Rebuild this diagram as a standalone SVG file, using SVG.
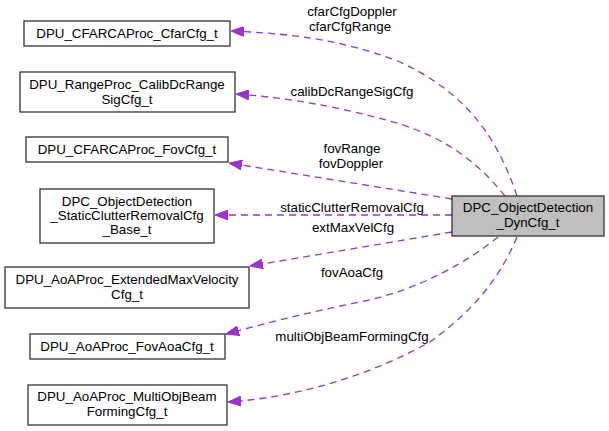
<svg xmlns="http://www.w3.org/2000/svg" width="609" height="431" viewBox="0 0 609 431">
<style>
.n rect{fill:#ffffff;stroke:#333333;stroke-width:1.3}
.m rect{fill:#bfbfbf;stroke:#333333;stroke-width:1.3}
text{font-family:"Liberation Sans",Arial,sans-serif;font-size:13.33px;fill:#000000;text-anchor:middle}
.e path{fill:none;stroke:#9a32cd;stroke-width:1.3;stroke-dasharray:7,5}
</style>
<defs>
<marker id="ah" viewBox="0 0 13 10" refX="13" refY="5" markerWidth="13" markerHeight="10" markerUnits="userSpaceOnUse" orient="auto">
<path d="M0,0 L13,5 L0,10 z" fill="#9a32cd" stroke="#9a32cd" stroke-width="1"/>
</marker>
</defs>
<rect width="609" height="431" fill="#ffffff"/>
<g id="connectors" class="e">
<path d="M517,196 C495,130 460,90 400,62 C340,38 280,33 231,31" marker-end="url(#ah)"/>
<path d="M505,196 C480,165 450,140 400,124 C340,106 280,97 236,94" marker-end="url(#ah)"/>
<path d="M452,199 L229,163" marker-end="url(#ah)"/>
<path d="M452,215 L215,215" marker-end="url(#ah)"/>
<path d="M452,232 L250,266" marker-end="url(#ah)"/>
<path d="M498,237 C470,260 420,290 360,302 C300,314 260,325 226,334" marker-end="url(#ah)"/>
<path d="M517,237 C495,290 460,320 430,342 C370,375 300,397 228,402" marker-end="url(#ah)"/>
<text x="352" y="16">cfarCfgDoppler</text>
<text x="350" y="31">cfarCfgRange</text>
<text x="352" y="96">calibDcRangeSigCfg</text>
<text x="352" y="153">fovRange</text>
<text x="351" y="168">fovDoppler</text>
<text x="352" y="212">staticClutterRemovalCfg</text>
<text x="353" y="232">extMaxVelCfg</text>
<text x="352" y="277">fovAoaCfg</text>
<text x="352" y="341">multiObjBeamFormingCfg</text>
</g>
<g id="main" class="m">
<rect x="452" y="196" width="152" height="40"/>
<text x="528" y="212">DPC_ObjectDetection</text>
<text x="528" y="227">_DynCfg_t</text>
</g>
<g id="cfarCfg" class="n">
<rect x="24" y="21" width="206" height="25"/>
<text x="127" y="38">DPU_CFARCAProc_CfarCfg_t</text>
</g>
<g id="calibDc" class="n">
<rect x="20" y="72" width="215" height="40"/>
<text x="127" y="89">DPU_RangeProc_CalibDcRange</text>
<text x="127" y="104">SigCfg_t</text>
</g>
<g id="fovCfg" class="n">
<rect x="26" y="137" width="202" height="25"/>
<text x="127" y="154">DPU_CFARCAProc_FovCfg_t</text>
</g>
<g id="staticClutter" class="n">
<rect x="40" y="189" width="174" height="54"/>
<text x="127" y="206">DPC_ObjectDetection</text>
<text x="127" y="220">_StaticClutterRemovalCfg</text>
<text x="127" y="234">_Base_t</text>
</g>
<g id="extMaxVel" class="n">
<rect x="5" y="267" width="244" height="41"/>
<text x="127" y="284">DPU_AoAProc_ExtendedMaxVelocity</text>
<text x="127" y="299">Cfg_t</text>
</g>
<g id="fovAoa" class="n">
<rect x="30" y="334" width="195" height="25"/>
<text x="127" y="351">DPU_AoAProc_FovAoaCfg_t</text>
</g>
<g id="multiObj" class="n">
<rect x="28" y="385" width="199" height="40"/>
<text x="127" y="401">DPU_AoAProc_MultiObjBeam</text>
<text x="127" y="416">FormingCfg_t</text>
</g>
</svg>
